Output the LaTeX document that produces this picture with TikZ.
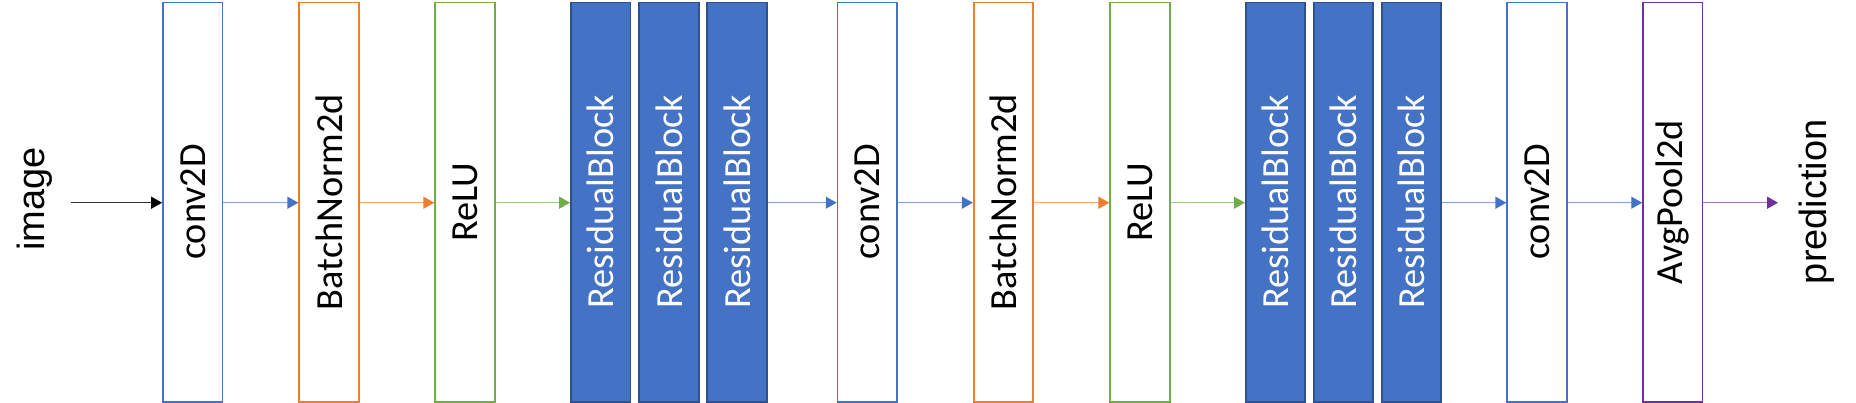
\documentclass[tikz,border=0pt]{standalone}
\usepackage{fontspec}
\setmainfont{Carlito}
\newfontfamily\arialf{Liberation Sans}
\usetikzlibrary{arrows.meta}
\definecolor{cblue}{HTML}{4472C4}
\definecolor{corange}{HTML}{ED7D31}
\definecolor{cgreen}{HTML}{70AD47}
\definecolor{cpurple}{HTML}{7030A0}
\definecolor{cdark}{HTML}{2F528F}
\tikzset{
  layer/.style={draw=#1, line width=0.5pt, fill=white, rectangle, minimum width=0.595cm, minimum height=3.99cm, inner sep=0pt, font=\fontsize{10.9}{12}\selectfont, text=black},
  resblock/.style={draw=cdark, line width=0.5pt, fill=cblue, rectangle, minimum width=0.595cm, minimum height=3.99cm, inner sep=0pt, font=\fontsize{10.9}{12}\selectfont, text=white},
  outlabel/.style={font=\arialf\fontsize{10.8}{12}\selectfont, inner sep=0pt, rotate=90},
  flow/.style={draw=#1!65, line width=0.38pt, -{Triangle[length=3.1pt, width=3.4pt, color=#1]}},
}
\begin{document}
\begin{tikzpicture}[x=0.01cm, y=-0.01cm]
\useasboundingbox (0,0) rectangle (1856,402);
\node[outlabel] (img) at (35,199) {image};
\node[outlabel] (pred) at (1817,201.7) {prediction};
\coordinate (imgout) at (71,202.7);
\coordinate (predin) at (1778,202.7);
\node[layer=cblue] (c1) at (192.75,202) {\rotatebox{90}{conv2D}};
\node[layer=corange] (b1) at (329,202) {\rotatebox{90}{BatchNorm2d}};
\node[layer=cgreen] (r1) at (465,202) {\rotatebox{90}{ReLU}};
\node[resblock] (rb1) at (600.7,202) {\rotatebox{90}{ResidualBlock}};
\node[resblock] (rb2) at (669,202) {\rotatebox{90}{ResidualBlock}};
\node[resblock] (rb3) at (737,202) {\rotatebox{90}{ResidualBlock}};
\node[layer=cblue] (c2) at (867.3,202) {\rotatebox{90}{conv2D}};
\node[layer=corange] (b2) at (1003.5,202) {\rotatebox{90}{BatchNorm2d}};
\node[layer=cgreen] (r2) at (1140,202) {\rotatebox{90}{ReLU}};
\node[resblock] (rb4) at (1275.5,202) {\rotatebox{90}{ResidualBlock}};
\node[resblock] (rb5) at (1343.5,202) {\rotatebox{90}{ResidualBlock}};
\node[resblock] (rb6) at (1411.5,202) {\rotatebox{90}{ResidualBlock}};
\node[layer=cblue] (c3) at (1537,202) {\rotatebox{90}{conv2D}};
\node[layer=cpurple] (ap) at (1672.8,202) {\rotatebox{90}{AvgPool2d}};
\draw[line width=0.38pt, draw=black!80, -{Triangle[length=3.1pt, width=3.4pt, color=black]}] (imgout) -- (c1.west |- imgout);
\draw[flow=cblue] (c1.east |- imgout) -- (b1.west |- imgout);
\draw[flow=corange] (b1.east |- imgout) -- (r1.west |- imgout);
\draw[flow=cgreen] (r1.east |- imgout) -- (rb1.west |- imgout);
\draw[flow=cblue] (rb3.east |- imgout) -- (c2.west |- imgout);
\draw[flow=cblue] (c2.east |- imgout) -- (b2.west |- imgout);
\draw[flow=corange] (b2.east |- imgout) -- (r2.west |- imgout);
\draw[flow=cgreen] (r2.east |- imgout) -- (rb4.west |- imgout);
\draw[flow=cblue] (rb6.east |- imgout) -- (c3.west |- imgout);
\draw[flow=cblue] (c3.east |- imgout) -- (ap.west |- imgout);
\draw[flow=cpurple] (ap.east |- imgout) -- (predin);
\end{tikzpicture}
\end{document}
